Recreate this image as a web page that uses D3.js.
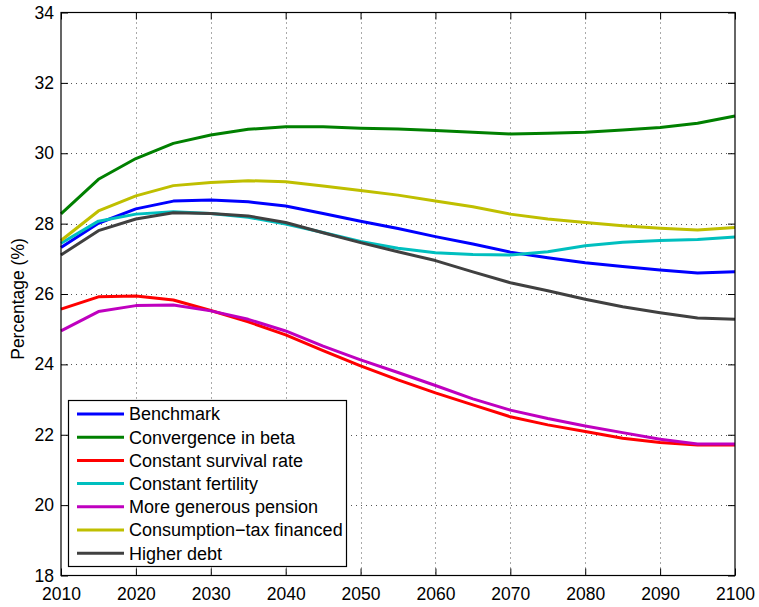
<!DOCTYPE html>
<html>
<head>
<meta charset="utf-8">
<script src="https://cdn.jsdelivr.net/npm/d3@7"></script>
<style>
  html, body { margin: 0; padding: 0; background: #fff; }
  svg { display: block; font-family: "Liberation Sans", Arial, Helvetica, sans-serif; }
</style>
</head>
<body>
<svg id="chart" width="759" height="607"></svg>
<script>
// Years on the horizontal axis (5-year steps)
const years = d3.range(2010, 2101, 5);

// Share of GDP (%) under each scenario
const benchmark   = [27.32, 28.01, 28.42, 28.64, 28.67, 28.62, 28.50, 28.29, 28.07, 27.86, 27.63, 27.42, 27.19, 27.03, 26.89, 26.78, 26.68, 26.60, 26.63];
const convergence = [28.28, 29.26, 29.85, 30.28, 30.52, 30.68, 30.75, 30.75, 30.71, 30.69, 30.65, 30.60, 30.55, 30.57, 30.60, 30.66, 30.73, 30.85, 31.06];
const survival    = [25.57, 25.92, 25.94, 25.83, 25.53, 25.21, 24.84, 24.39, 23.96, 23.56, 23.19, 22.85, 22.51, 22.28, 22.09, 21.90, 21.78, 21.71, 21.71];
const fertility   = [27.44, 28.07, 28.27, 28.34, 28.29, 28.18, 27.99, 27.75, 27.49, 27.30, 27.17, 27.12, 27.11, 27.20, 27.37, 27.47, 27.52, 27.55, 27.62];
const pension     = [24.95, 25.50, 25.67, 25.69, 25.52, 25.28, 24.95, 24.52, 24.13, 23.77, 23.40, 23.02, 22.70, 22.46, 22.25, 22.06, 21.87, 21.74, 21.74];
const consumption = [27.52, 28.36, 28.79, 29.08, 29.17, 29.22, 29.19, 29.07, 28.94, 28.81, 28.64, 28.48, 28.27, 28.13, 28.03, 27.94, 27.87, 27.82, 27.89];
const debt        = [27.11, 27.80, 28.13, 28.31, 28.29, 28.22, 28.03, 27.74, 27.46, 27.20, 26.95, 26.63, 26.32, 26.09, 25.85, 25.64, 25.47, 25.32, 25.28];

const seriesNames  = ["Benchmark", "Convergence in beta", "Constant survival rate", "Constant fertility",
                      "More generous pension", "Consumption\u2212tax financed", "Higher debt"];
const seriesColors = ["#0000ff", "#008000", "#ff0000", "#00bfbf", "#bf00bf", "#bfbf00", "#404040"];
const seriesValues = [benchmark, convergence, survival, fertility, pension, consumption, debt];

const xTicks = d3.range(2010, 2101, 10);
const yTicks = d3.range(18, 35, 2);
const yLabel = "Percentage (%)";

const svg = d3.select("#chart");
const plotLeft = 61, plotRight = 735, plotTop = 12.5, plotBottom = 575.5;

const x = d3.scaleLinear().domain([2010, 2100]).range([plotLeft, plotRight]);
const y = d3.scaleLinear().domain([18, 34]).range([plotBottom, plotTop]);

// Dotted grid
const grid = svg.append("g").attr("stroke", "#555").attr("stroke-width", 1)
  .attr("stroke-dasharray", "1,4").attr("fill", "none");
grid.selectAll(".gx").data(xTicks.slice(1, -1)).join("line")
  .attr("x1", d => Math.round(x(d)) + 0.5).attr("x2", d => Math.round(x(d)) + 0.5)
  .attr("y1", plotTop).attr("y2", plotBottom);
grid.selectAll(".gy").data(yTicks.slice(1, -1)).join("line")
  .attr("y1", d => Math.round(y(d)) + 0.5).attr("y2", d => Math.round(y(d)) + 0.5)
  .attr("x1", plotLeft).attr("x2", plotRight);

// Axes with inward ticks on all four sides
const tickLen = 7;
const fontSize = 17.5;
const axB = svg.append("g").attr("transform", `translate(0,${plotBottom})`)
  .call(d3.axisBottom(x).tickValues(xTicks).tickFormat(d3.format("d")).tickSizeInner(-tickLen).tickSizeOuter(0).tickPadding(12));
const axT = svg.append("g").attr("transform", `translate(0,${plotTop})`)
  .call(d3.axisTop(x).tickValues(xTicks).tickFormat("").tickSizeInner(-tickLen).tickSizeOuter(0));
const axL = svg.append("g").attr("transform", `translate(${plotLeft},0)`)
  .call(d3.axisLeft(y).tickValues(yTicks).tickFormat(d3.format("d")).tickSizeInner(-tickLen).tickSizeOuter(0).tickPadding(7));
const axR = svg.append("g").attr("transform", `translate(${plotRight},0)`)
  .call(d3.axisRight(y).tickValues(yTicks).tickFormat("").tickSizeInner(-tickLen).tickSizeOuter(0));
[axB, axT, axL, axR].forEach(a => {
  a.select(".domain").remove();
  a.selectAll(".tick line").attr("stroke", "#000");
  a.selectAll("text").attr("fill", "#000").style("font-size", fontSize + "px")
    .style("font-family", "'Liberation Sans', Arial, sans-serif");
});

// Data lines
const line = d3.line().x((d, i) => x(years[i])).y(d => y(d));
svg.append("g").selectAll("path").data(seriesValues).join("path")
  .attr("d", d => line(d))
  .attr("fill", "none")
  .attr("stroke", (d, i) => seriesColors[i])
  .attr("stroke-width", 3)
  .attr("stroke-linejoin", "round");

// Plot frame
svg.append("rect").attr("x", plotLeft).attr("y", plotTop)
  .attr("width", plotRight - plotLeft).attr("height", plotBottom - plotTop)
  .attr("fill", "none").attr("stroke", "#000").attr("stroke-width", 1.2);

// Y axis title
svg.append("text")
  .attr("transform", `translate(24,${(plotTop + plotBottom) / 2 + 5}) rotate(-90)`)
  .attr("text-anchor", "middle")
  .style("font-size", "17.5px")
  .text(yLabel);

// Legend
const lg = svg.append("g");
lg.append("rect").attr("x", 68.5).attr("y", 400.5).attr("width", 278).attr("height", 166)
  .attr("fill", "#fff").attr("stroke", "#000").attr("stroke-width", 1.2);
const rowH = 23.2, row0 = 414;
const items = lg.selectAll(".item").data(seriesNames).join("g")
  .attr("transform", (d, i) => `translate(0,${row0 + i * rowH})`);
items.append("line").attr("x1", 77).attr("x2", 124).attr("y1", 0).attr("y2", 0)
  .attr("stroke", (d, i) => seriesColors[i]).attr("stroke-width", 3);
items.append("text").attr("x", 129).attr("y", 0).attr("dy", "0.36em")
  .style("font-size", "18px").text(d => d);
</script>
</body>
</html>
